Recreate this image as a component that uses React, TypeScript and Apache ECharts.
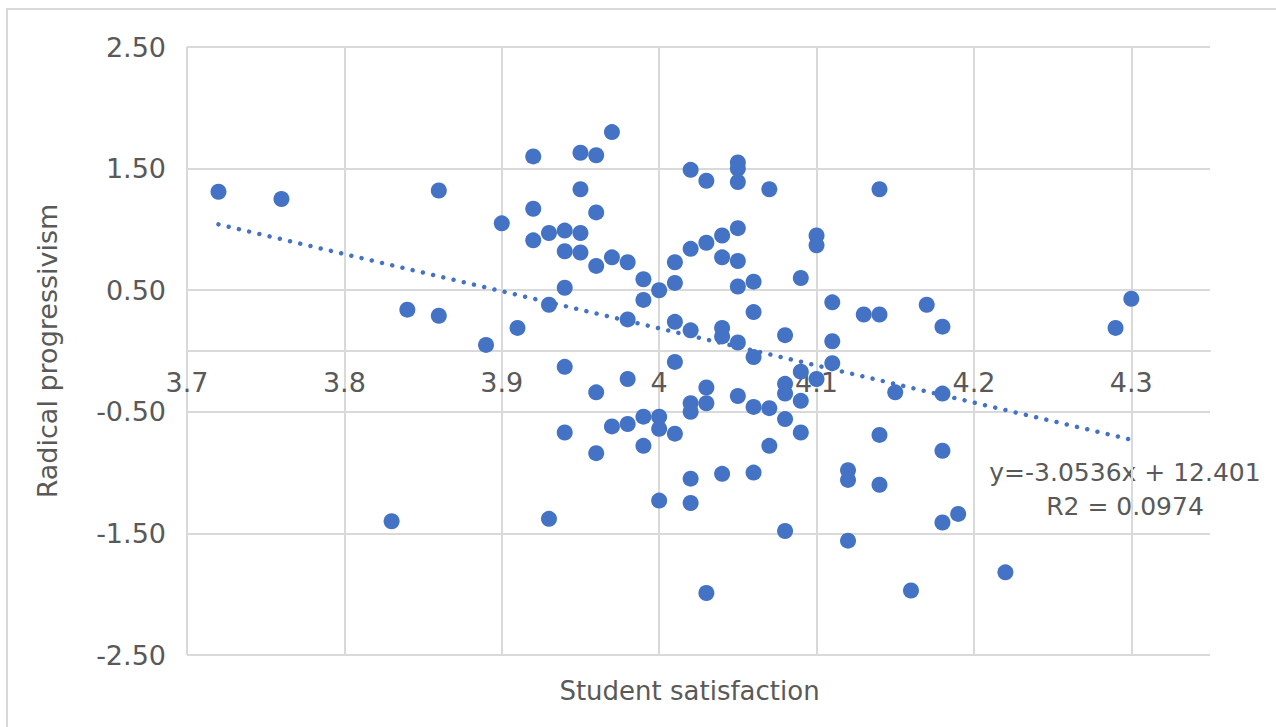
import React, { useEffect, useRef } from "react";
import * as echarts from "echarts";

// ---- data ----
const xTicks = [3.7, 3.8, 3.9, 4.0, 4.1, 4.2, 4.3];
const yTicks = [-2.5, -1.5, -0.5, 0.5, 1.5, 2.5];

const satisfaction = [
  3.72, 3.76, 3.86, 3.84, 3.86, 3.89, 3.91, 3.90, 3.92, 3.92,
  3.92, 3.93, 3.94, 3.95, 3.94, 3.95, 3.95, 3.96, 3.97, 3.95,
  3.96, 3.96, 3.97, 3.98, 3.94, 3.93, 3.98, 3.99, 3.99, 4.00,
  4.01, 4.01, 4.02, 4.03, 4.04, 4.05, 4.04, 4.05, 4.02, 4.03,
  4.05, 4.05, 4.05, 4.07, 4.14, 4.10, 4.10, 4.09, 4.05, 4.06,
  4.06, 4.01, 4.02, 4.04, 4.04, 4.05, 4.08, 4.11, 4.11, 4.13,
  4.14, 4.17, 4.18, 4.30, 4.29, 3.94, 3.98, 3.96, 4.01, 4.03,
  4.05, 4.06, 4.02, 4.02, 4.03, 4.06, 4.07, 3.99, 4.00, 3.98,
  3.97, 4.00, 4.01, 3.94, 3.99, 3.96, 4.02, 4.04, 4.06, 4.07,
  4.00, 4.02, 3.93, 3.83, 4.03, 4.11, 4.09, 4.10, 4.08, 4.08,
  4.09, 4.08, 4.09, 4.15, 4.18, 4.14, 4.18, 4.12, 4.12, 4.14,
  4.18, 4.19, 4.08, 4.12, 4.16, 4.22,
];

const progressivism = [
  1.31, 1.25, 1.32, 0.34, 0.29, 0.05, 0.19, 1.05, 1.60, 1.17,
  0.91, 0.97, 0.99, 0.97, 0.82, 0.81, 1.63, 1.61, 1.80, 1.33,
  1.14, 0.70, 0.77, 0.73, 0.52, 0.38, 0.26, 0.59, 0.42, 0.50,
  0.73, 0.56, 0.84, 0.89, 0.95, 1.01, 0.77, 0.74, 1.49, 1.40,
  1.55, 1.50, 1.39, 1.33, 1.33, 0.95, 0.87, 0.60, 0.53, 0.57,
  0.32, 0.24, 0.17, 0.19, 0.12, 0.07, 0.13, 0.40, 0.08, 0.30,
  0.30, 0.38, 0.20, 0.43, 0.19, -0.13, -0.23, -0.34, -0.09, -0.30,
  -0.37, -0.05, -0.43, -0.50, -0.43, -0.46, -0.47, -0.54, -0.54, -0.60,
  -0.62, -0.64, -0.68, -0.67, -0.78, -0.84, -1.05, -1.01, -1.00, -0.78,
  -1.23, -1.25, -1.38, -1.40, -1.99, -0.10, -0.17, -0.23, -0.27, -0.35,
  -0.41, -0.56, -0.67, -0.34, -0.35, -0.69, -0.82, -0.98, -1.06, -1.10,
  -1.41, -1.34, -1.48, -1.56, -1.97, -1.82,
];

// linear trendline, as printed on the chart
const trendSlope = -3.0536;
const trendIntercept = 12.401;
const trendX = [3.72, 4.3];
const equationText = "y=-3.0536x + 12.401";
const r2Text = "R2 = 0.0974";

const xTitle = "Student satisfaction";
const yTitle = "Radical progressivism";

const FONT = "'DejaVu Sans', sans-serif";
const TEXT = "#595959";
const GRID = "#d9d9d9";
const BLUE = "#4472C4";

const GRID_TOP = 47;
const GRID_HEIGHT = 608;
const X_MIN = 3.7;
const X_MAX = 4.35;

export default function App() {
  const ref = useRef<HTMLDivElement>(null);

  useEffect(() => {
    if (!ref.current) return;
    const chart = echarts.init(ref.current, undefined, { renderer: "svg" });

    const points = satisfaction.map((x, i) => [x, progressivism[i]]);
    const trend = trendX.map((x) => [x, trendSlope * x + trendIntercept]);

    const yMin = yTicks[0];
    const yMax = yTicks[yTicks.length - 1];
    // lift the labelled x axis from the bottom of the grid up to y = 0
    const zeroOffset = -GRID_HEIGHT * ((0 - yMin) / (yMax - yMin));

    const labelFmt = (v: number) => {
      const r = Math.round(v * 100) / 100;
      return xTicks.some((t) => Math.abs(t - r) < 1e-6) ? String(r) : "";
    };

    const option: any = {
      animation: false,
      textStyle: { fontFamily: FONT },
      grid: {
        left: 187,
        top: GRID_TOP,
        width: 1023,
        height: GRID_HEIGHT,
        containLabel: false,
        outerBoundsMode: "none",
      },
      xAxis: [
        {
          type: "value",
          min: X_MIN,
          max: X_MAX,
          interval: 0.1,
          position: "bottom",
          axisLine: { show: false, onZero: false },
          axisTick: { show: false },
          splitLine: { show: false },
          axisLabel: { show: false },
          name: xTitle,
          nameLocation: "middle",
          nameGap: 23,
          nameTextStyle: { color: TEXT, fontSize: 26, fontFamily: FONT, padding: [0, 18, 0, 0] },
        },
        {
          type: "value",
          min: X_MIN,
          max: X_MAX,
          interval: 0.1,
          position: "bottom",
          offset: zeroOffset,
          z: 2,
          axisLine: { show: true, onZero: false, lineStyle: { color: GRID, width: 2 } },
          axisTick: { show: false },
          splitLine: { show: false },
          axisLabel: {
            color: TEXT,
            fontSize: 27,
            fontFamily: FONT,
            margin: 18,
            showMaxLabel: false,
            formatter: labelFmt,
          },
        },
      ],
      yAxis: {
        type: "value",
        min: yMin,
        max: yMax,
        interval: 1,
        axisLine: { show: false },
        axisTick: { show: false },
        splitLine: { show: true, lineStyle: { color: GRID, width: 2 } },
        axisLabel: {
          color: TEXT,
          fontSize: 27,
          fontFamily: FONT,
          margin: 21,
          formatter: (v: number) => v.toFixed(2),
        },
        name: yTitle,
        nameLocation: "middle",
        nameGap: 126,
        nameTextStyle: { color: TEXT, fontSize: 27, fontFamily: FONT },
      },
      series: [
        {
          type: "scatter",
          xAxisIndex: 0,
          data: points,
          symbol: "circle",
          symbolSize: 16,
          itemStyle: { color: BLUE, opacity: 1 },
          z: 3,
          silent: true,
        },
        {
          type: "line",
          xAxisIndex: 0,
          data: trend,
          showSymbol: false,
          symbol: "none",
          silent: true,
          z: 4,
          lineStyle: { color: BLUE, width: 4.5, type: [0.001, 10.5], cap: "round" },
          markLine: {
            silent: true,
            z: 1,
            symbol: ["none", "none"],
            label: { show: false },
            lineStyle: { color: GRID, width: 2, type: "solid" },
            data: xTicks.map((v) => ({ xAxis: v })),
          },
        },
      ],
      graphic: [
        {
          type: "text",
          x: 1125,
          y: 472,
          style: {
            text: equationText,
            fill: TEXT,
            font: `25px ${FONT}`,
            align: "center",
            verticalAlign: "middle",
            textAlign: "center",
            textVerticalAlign: "middle",
          },
        },
        {
          type: "text",
          x: 1125,
          y: 506,
          style: {
            text: r2Text,
            fill: TEXT,
            font: `25px ${FONT}`,
            align: "center",
            verticalAlign: "middle",
            textAlign: "center",
            textVerticalAlign: "middle",
          },
        },
      ],
    };

    chart.setOption(option);
    return () => chart.dispose();
  }, []);

  return (
    <div
      style={{
        position: "fixed",
        left: 0,
        top: 0,
        width: 1276,
        height: 727,
        background: "#fff",
        overflow: "hidden",
      }}
    >
      <div
        style={{
          position: "absolute",
          left: 6,
          top: 8,
          width: 1320,
          height: 800,
          border: `2px solid ${GRID}`,
          boxSizing: "border-box",
        }}
      />
      <div ref={ref} style={{ position: "absolute", left: 0, top: 0, width: 1276, height: 727 }} />
    </div>
  );
}
